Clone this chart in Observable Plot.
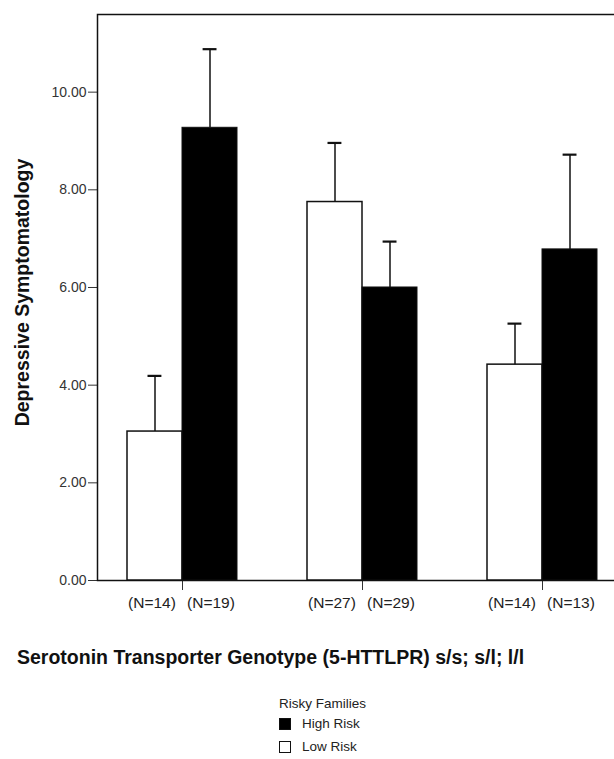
<!DOCTYPE html>
<html>
<head>
<meta charset="utf-8">
<script src="https://cdn.jsdelivr.net/npm/d3@7"></script>
<script src="https://cdn.jsdelivr.net/npm/@observablehq/plot@0.6"></script>
<style>
  html, body { margin: 0; padding: 0; background: #fff; }
  body { width: 614px; height: 759px; position: relative; overflow: hidden; font-family: "Liberation Sans", Arial, sans-serif; }
  #chart { position: absolute; left: 0; top: 0; }
  #chart svg { overflow: visible; max-width: none; }
  #xtitle { position: absolute; left: 17px; top: 646px; font-weight: bold; font-size: 19.5px; line-height: 22px; color: #111; white-space: nowrap; }
  #legend { position: absolute; left: 279px; top: 696px; font-size: 13.5px; color: #222; }
  #legend .title { height: 16px; line-height: 16px; }
  #legend .row { display: flex; align-items: center; height: 23px; }
  #legend .sw { width: 12px; height: 12px; border: 1px solid #111; margin-right: 11px; box-sizing: border-box; }
</style>
</head>
<body>
<div id="chart"></div>
<div id="xtitle">Serotonin Transporter Genotype (5-HTTLPR) s/s; s/l; l/l</div>
<div id="legend"></div>
<script>
// ---- data ----
const groups = ["s/s", "s/l", "l/l"];
const lowRiskMean = [3.05, 7.75, 4.42];
const lowRiskUpper = [4.19, 8.96, 5.26];
const highRiskMean = [9.27, 6.00, 6.78];
const highRiskUpper = [10.88, 6.94, 8.72];
const lowRiskN = [14, 27, 14];
const highRiskN = [19, 29, 13];
const yTicks = [0, 2, 4, 6, 8, 10];
const legendLabels = ["High Risk", "Low Risk"];
const legendTitle = "Risky Families";
const yLabel = "Depressive Symptomatology";

const low = groups.map((g, i) => ({group: g, mean: lowRiskMean[i], upper: lowRiskUpper[i], n: lowRiskN[i]}));
const high = groups.map((g, i) => ({group: g, mean: highRiskMean[i], upper: highRiskUpper[i], n: highRiskN[i]}));

const half = 55; // half of band width (bar width)
const capL = 20.5, capR = 75.6;

const chart = Plot.plot({
  width: 614,
  height: 610,
  marginLeft: 97,
  marginRight: -12,
  marginTop: 14,
  marginBottom: 30,
  style: {fontFamily: "'Liberation Sans', Arial, sans-serif", fontSize: "14px", color: "#333", background: "white", overflow: "visible"},
  x: {domain: groups, paddingInner: 0.39, paddingOuter: 0.16, tickFormat: () => "", tickSize: 10, label: null},
  y: {domain: [0, 11.59], ticks: yTicks, tickFormat: d3.format(".2f"), tickSize: 9, tickPadding: 2, label: null},
  marks: [
    Plot.frame({stroke: "#111", strokeWidth: 1.5}),
    Plot.barY(low, {x: "group", y: "mean", fill: "white", stroke: "#111", strokeWidth: 1.5, insetRight: half}),
    Plot.barY(high, {x: "group", y: "mean", fill: "black", stroke: "#111", strokeWidth: 1, insetLeft: half}),
    Plot.ruleX(low, {x: "group", y1: "mean", y2: "upper", dx: -half / 2, stroke: "#111", strokeWidth: 1.5}),
    Plot.ruleX(high, {x: "group", y1: "mean", y2: "upper", dx: half / 2, stroke: "#111", strokeWidth: 1.5}),
    Plot.tickY(low, {x: "group", y: "upper", insetLeft: capL, insetRight: capR, stroke: "#111", strokeWidth: 2.2}),
    Plot.tickY(high, {x: "group", y: "upper", insetLeft: capR, insetRight: capL, stroke: "#111", strokeWidth: 2.2}),
    Plot.text(low, {x: "group", y: () => 0, text: d => `(N=${d.n})`, dx: -half / 2 - 3, dy: 23, fontSize: 15.5, fill: "#222"}),
    Plot.text(high, {x: "group", y: () => 0, text: d => `(N=${d.n})`, dx: half / 2 + 1, dy: 23, fontSize: 15.5, fill: "#222"}),
    Plot.text([yLabel], {frameAnchor: "left", textAnchor: "middle", text: d => d, rotate: -90, dx: -75, dy: -5, fontSize: 19.5, fontWeight: "bold", fill: "#111"})
  ]
});
document.getElementById("chart").appendChild(chart);

// legend
const leg = document.getElementById("legend");
const t = document.createElement("div"); t.className = "title"; t.textContent = legendTitle; leg.appendChild(t);
const fills = ["#000", "#fff"];
legendLabels.forEach((lab, i) => {
  const r = document.createElement("div"); r.className = "row";
  const s = document.createElement("span"); s.className = "sw"; s.style.background = fills[i];
  const l = document.createElement("span"); l.textContent = lab;
  r.appendChild(s); r.appendChild(l); leg.appendChild(r);
});
</script>
</body>
</html>
